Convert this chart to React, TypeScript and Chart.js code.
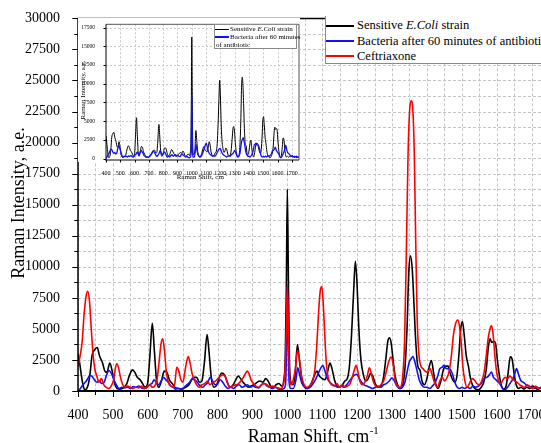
import React, { useEffect, useRef } from "react";
import { Chart, registerables } from "chart.js";

Chart.register(...registerables);

const FONT = '"Liberation Serif", serif';

// ---------- tick labels ----------
const xTickLabels = [400, 500, 600, 700, 800, 900, 1000, 1100, 1200, 1300, 1400, 1500, 1600, 1700];
const yTickLabels = [0, 2500, 5000, 7500, 10000, 12500, 15000, 17500, 20000, 22500, 25000, 27500, 30000];
const insetYTickLabels = [0, 2500, 5000, 7500, 10000, 12500, 15000, 17500];

// ---------- series names ----------
const seriesNames = ["Sensitive E.Coli strain", "Bacteria after 60 minutes of antibiotic", "Ceftriaxone"];

// ---------- Sensitive E.Coli strain (black) ----------
const blackX = [400, 405, 410, 415, 420, 425, 430, 435, 440, 447, 455, 462, 470, 477, 483, 491, 498, 505, 512, 520, 530, 540, 548, 556, 563, 570, 578, 585, 592, 600, 606, 613, 619, 625, 632, 640, 647, 655, 662, 670, 678, 688, 698, 708, 718, 726, 733, 740, 748, 755, 762, 770, 776, 782, 790, 798, 805, 812, 820, 828, 836, 845, 852, 859, 866, 873, 880, 888, 896, 905, 913, 922, 930, 938, 945, 952, 960, 968, 976, 984, 990, 994, 997, 1000, 1003, 1006, 1010, 1016, 1022, 1029, 1035, 1041, 1048, 1055, 1062, 1070, 1078, 1085, 1092, 1100, 1108, 1115, 1122, 1128, 1135, 1142, 1150, 1158, 1165, 1172, 1178, 1184, 1190, 1195, 1200, 1205, 1211, 1218, 1225, 1232, 1238, 1245, 1252, 1260, 1268, 1275, 1282, 1288, 1293, 1298, 1303, 1309, 1316, 1323, 1330, 1337, 1343, 1348, 1353, 1358, 1363, 1368, 1374, 1380, 1386, 1393, 1400, 1407, 1413, 1419, 1425, 1432, 1440, 1447, 1454, 1461, 1467, 1474, 1480, 1486, 1492, 1497, 1502, 1507, 1513, 1519, 1525, 1532, 1540, 1548, 1556, 1563, 1570, 1576, 1581, 1586, 1592, 1597, 1602, 1608, 1614, 1620, 1627, 1633, 1639, 1644, 1650, 1656, 1663, 1670, 1678, 1686, 1694, 1702, 1710, 1718, 1726, 1734, 1742, 1750];
const blackY = [3000, 2200, 1200, 400, 100, 200, 600, 1500, 2800, 3300, 3500, 2800, 2300, 1600, 1500, 2250, 1600, 600, 200, 150, 250, 600, 1300, 1700, 1500, 1100, 900, 600, 300, 700, 2800, 5450, 3200, 900, 300, 900, 1600, 1500, 900, 600, 300, 200, 150, 300, 500, 900, 1100, 1100, 700, 800, 2200, 4550, 3000, 1100, 300, 500, 1100, 1450, 1300, 700, 300, 500, 900, 1200, 1000, 700, 500, 300, 400, 500, 700, 800, 700, 1000, 800, 400, 300, 500, 600, 400, 900, 2500, 8000, 16250, 9000, 2500, 700, 500, 1200, 3740, 2400, 1000, 400, 200, 300, 700, 1300, 1600, 1200, 1000, 900, 1500, 2250, 1800, 900, 400, 300, 500, 800, 1000, 2000, 4500, 8000, 10450, 8500, 5000, 2500, 1300, 800, 1000, 1400, 1200, 600, 300, 400, 1000, 2500, 4000, 4280, 3800, 2500, 1200, 500, 200, 400, 1800, 5000, 9500, 10880, 9800, 7000, 4000, 2000, 1700, 800, 500, 1000, 2000, 2450, 1500, 600, 200, 800, 1700, 2000, 2000, 1400, 900, 700, 1200, 3000, 5000, 5600, 4500, 2800, 2000, 1000, 400, 150, 100, 300, 700, 1700, 3500, 4200, 3900, 4000, 3800, 2500, 1200, 400, 150, 400, 1500, 2750, 2600, 1400, 500, 200, 300, 150, 300, 200, 400, 300, 100, 300, 100, 200, 100];

// ---------- Bacteria after 60 minutes of antibiotic (blue) ----------
const blueX = [400, 407, 414, 421, 428, 434, 440, 447, 454, 461, 468, 475, 482, 489, 496, 503, 510, 518, 526, 534, 542, 550, 558, 566, 574, 582, 590, 598, 605, 612, 618, 624, 631, 638, 645, 652, 659, 666, 673, 680, 688, 696, 704, 712, 720, 728, 735, 742, 750, 758, 765, 772, 779, 786, 793, 800, 808, 815, 822, 830, 838, 846, 854, 862, 870, 878, 886, 894, 902, 910, 918, 926, 934, 942, 950, 958, 966, 974, 982, 990, 995, 998, 1000, 1002, 1005, 1010, 1017, 1024, 1030, 1036, 1042, 1050, 1058, 1066, 1074, 1082, 1090, 1097, 1102, 1108, 1115, 1122, 1130, 1138, 1146, 1154, 1162, 1170, 1178, 1186, 1193, 1199, 1206, 1213, 1220, 1228, 1236, 1244, 1252, 1260, 1268, 1276, 1284, 1292, 1300, 1307, 1314, 1322, 1330, 1337, 1343, 1349, 1355, 1360, 1366, 1372, 1378, 1385, 1392, 1400, 1408, 1416, 1424, 1431, 1437, 1443, 1449, 1456, 1462, 1468, 1474, 1480, 1487, 1494, 1501, 1508, 1516, 1524, 1532, 1540, 1548, 1556, 1564, 1572, 1579, 1585, 1591, 1598, 1605, 1611, 1617, 1624, 1631, 1638, 1645, 1651, 1657, 1663, 1670, 1677, 1684, 1692, 1700, 1708, 1716, 1724, 1732, 1741, 1750];
const blueY = [0, 200, 500, 700, 1000, 1250, 1200, 900, 700, 800, 600, 700, 1300, 1650, 1400, 900, 500, 200, 300, 250, 300, 200, 350, 300, 400, 250, 200, 300, 500, 600, 900, 700, 500, 800, 1100, 900, 700, 400, 300, 150, 200, 150, 300, 500, 700, 1000, 900, 700, 400, 300, 500, 700, 1100, 800, 500, 600, 900, 700, 400, 200, 300, 200, 400, 500, 300, 400, 500, 300, 400, 300, 250, 500, 600, 400, 300, 200, 300, 150, 100, 200, 600, 4000, 8400, 5000, 800, 200, 200, 800, 1870, 1200, 600, 300, 200, 300, 600, 1000, 1500, 1900, 2050, 1600, 1000, 700, 500, 400, 300, 400, 300, 500, 800, 1100, 1300, 1340, 1000, 700, 500, 400, 300, 200, 300, 400, 300, 500, 600, 800, 1070, 800, 400, 200, 300, 700, 1500, 2300, 2600, 2780, 2300, 1600, 900, 500, 300, 300, 200, 400, 700, 1200, 1800, 1900, 2060, 1800, 1800, 1700, 1300, 700, 300, 200, 300, 200, 300, 200, 400, 300, 400, 600, 1000, 1100, 1300, 1520, 1100, 900, 700, 500, 200, 100, 300, 600, 900, 1300, 1800, 1300, 800, 700, 500, 400, 300, 200, 300, 200, 300, 200, 250];

// ---------- Ceftriaxone (red) ----------
const redX = [400, 406, 412, 417, 423, 428, 433, 438, 443, 448, 454, 460, 467, 474, 481, 488, 495, 502, 507, 511, 516, 521, 527, 534, 542, 550, 558, 566, 574, 582, 590, 598, 606, 613, 620, 627, 633, 638, 643, 648, 653, 659, 666, 673, 678, 683, 689, 695, 701, 706, 711, 716, 721, 727, 733, 740, 747, 755, 763, 771, 778, 786, 794, 801, 808, 815, 822, 829, 836, 844, 852, 860, 867, 874, 880, 885, 890, 896, 903, 910, 918, 926, 934, 942, 950, 958, 966, 974, 982, 988, 993, 997, 1000, 1003, 1006, 1011, 1017, 1023, 1029, 1035, 1041, 1048, 1055, 1063, 1071, 1078, 1084, 1090, 1095, 1099, 1104, 1109, 1114, 1120, 1127, 1134, 1142, 1150, 1158, 1165, 1172, 1180, 1186, 1192, 1197, 1202, 1208, 1215, 1222, 1229, 1235, 1240, 1246, 1253, 1260, 1268, 1276, 1283, 1290, 1297, 1303, 1309, 1316, 1323, 1330, 1336, 1341, 1346, 1351, 1355, 1360, 1364, 1368, 1372, 1377, 1383, 1389, 1395, 1402, 1409, 1416, 1423, 1430, 1437, 1444, 1451, 1458, 1464, 1470, 1476, 1482, 1488, 1493, 1498, 1503, 1509, 1515, 1522, 1529, 1536, 1543, 1550, 1557, 1564, 1570, 1576, 1581, 1585, 1590, 1595, 1600, 1606, 1612, 1618, 1624, 1631, 1638, 1645, 1652, 1659, 1666, 1673, 1680, 1688, 1696, 1704, 1712, 1720, 1728, 1736, 1744, 1750];
const redY = [2000, 2800, 4000, 6000, 7600, 8020, 7200, 5000, 3000, 1800, 1200, 700, 1000, 500, 300, 200, 400, 900, 1800, 2200, 1900, 1200, 600, 300, 400, 300, 200, 300, 250, 400, 200, 300, 500, 300, 400, 1000, 2500, 3800, 4200, 3200, 1600, 700, 400, 300, 700, 1900, 1600, 900, 700, 1500, 2300, 2780, 2300, 1400, 900, 500, 300, 500, 600, 800, 500, 700, 800, 1000, 1200, 1300, 1200, 600, 300, 400, 500, 600, 800, 1100, 1400, 1600, 1400, 900, 600, 400, 300, 500, 600, 500, 300, 400, 300, 250, 200, 500, 1500, 5000, 8530, 5000, 1500, 500, 900, 1800, 3260, 2500, 1200, 500, 300, 400, 700, 1500, 3500, 6500, 8200, 8400, 6500, 3500, 1600, 800, 500, 400, 600, 300, 500, 300, 400, 600, 1100, 1700, 2060, 1600, 800, 500, 700, 1200, 1870, 1500, 800, 400, 300, 500, 800, 1500, 2300, 2730, 2200, 900, 400, 300, 1000, 4000, 11000, 19000, 22800, 23360, 22500, 19000, 12000, 6000, 3000, 2000, 1800, 1600, 1500, 1800, 1200, 600, 300, 800, 1100, 800, 1100, 1600, 2800, 4500, 5400, 5720, 5300, 4000, 2000, 800, 300, 600, 1000, 900, 600, 500, 800, 1500, 2800, 4300, 5000, 5270, 4500, 2800, 1500, 800, 600, 900, 1100, 1000, 1200, 1000, 800, 700, 500, 400, 300, 500, 300, 200, 400, 200, 300, 200, 300, 150];

const zip = (xs: number[], ys: number[]) => xs.map((x, i) => ({ x, y: ys[i] }));

type FrameCfg = {
  xGrid: number[];
  yGrid: number[];
  xMajor: number[];
  xMinor: number[];
  yMajor: number[];
  yMinor: number[];
  majorLen: number;
  minorLen: number;
  gridColor: string;
  dash: number[];
  yAxisWidth: number;
  xAxisWidth: number;
  topWidth: number;
  rightWidth: number;
  topColor: string;
  whiteBg: boolean;
  titleSize: number;
  xTitle: { cx: number; baseline: number };
  yTitle: { cx: number; cy: number };
};

const range = (a: number, b: number, s: number) => {
  const out: number[] = [];
  for (let v = a; v <= b + 1e-9; v += s) out.push(v);
  return out;
};

function drawShiftTitle(ctx: CanvasRenderingContext2D, cx: number, baseline: number, size: number) {
  const main = "Raman Shift, cm";
  const sup = "-1";
  ctx.save();
  ctx.fillStyle = "#000";
  ctx.textAlign = "left";
  ctx.textBaseline = "alphabetic";
  ctx.font = `${size}px ${FONT}`;
  const w1 = ctx.measureText(main).width;
  ctx.font = `${size * 0.6}px ${FONT}`;
  const w2 = ctx.measureText(sup).width;
  const start = cx - (w1 + w2) / 2;
  ctx.font = `${size}px ${FONT}`;
  ctx.fillText(main, start, baseline);
  ctx.font = `${size * 0.6}px ${FONT}`;
  ctx.fillText(sup, start + w1 + 0.5, baseline - size * 0.42);
  ctx.restore();
}

function framePlugin(cfg: FrameCfg) {
  return {
    id: "frame",
    beforeDraw(chart: any) {
      if (!cfg.whiteBg) return;
      const { ctx, chartArea: a } = chart;
      ctx.save();
      ctx.fillStyle = "#fff";
      ctx.fillRect(0, 0, a.right + 1, a.bottom + 2);
      ctx.restore();
    },
    beforeDatasetsDraw(chart: any) {
      const { ctx, chartArea: a, scales } = chart;
      const xs = scales.x;
      const ys = scales.y;
      ctx.save();
      ctx.beginPath();
      ctx.rect(a.left, a.top, a.right - a.left, a.bottom - a.top);
      ctx.clip();
      ctx.strokeStyle = cfg.gridColor;
      ctx.lineWidth = 1;
      ctx.setLineDash(cfg.dash);
      cfg.xGrid.forEach((v) => {
        const px = Math.round(xs.getPixelForValue(v)) + 0.5;
        ctx.beginPath();
        ctx.moveTo(px, a.top);
        ctx.lineTo(px, a.bottom);
        ctx.stroke();
      });
      cfg.yGrid.forEach((v) => {
        const py = Math.round(ys.getPixelForValue(v)) + 0.5;
        ctx.beginPath();
        ctx.moveTo(a.left, py);
        ctx.lineTo(a.right, py);
        ctx.stroke();
      });
      ctx.restore();
    },
    afterDatasetsDraw(chart: any) {
      const { ctx, chartArea: a, scales } = chart;
      const xs = scales.x;
      const ys = scales.y;
      ctx.save();
      ctx.setLineDash([]);
      ctx.strokeStyle = "#000";
      ctx.lineWidth = 1;
      const tickX = (vals: number[], len: number) =>
        vals.forEach((v) => {
          const px = Math.round(xs.getPixelForValue(v)) + 0.5;
          ctx.beginPath();
          ctx.moveTo(px, a.bottom);
          ctx.lineTo(px, a.bottom + len + cfg.xAxisWidth / 2);
          ctx.stroke();
        });
      const tickY = (vals: number[], len: number) =>
        vals.forEach((v) => {
          const py = Math.round(ys.getPixelForValue(v)) + 0.5;
          ctx.beginPath();
          ctx.moveTo(a.left, py);
          ctx.lineTo(a.left - len - cfg.yAxisWidth / 2, py);
          ctx.stroke();
        });
      tickX(cfg.xMajor, cfg.majorLen);
      tickX(cfg.xMinor, cfg.minorLen);
      tickY(cfg.yMajor, cfg.majorLen);
      tickY(cfg.yMinor, cfg.minorLen);
      if (cfg.topWidth > 0) {
        ctx.strokeStyle = cfg.topColor;
        ctx.lineWidth = cfg.topWidth;
        ctx.beginPath();
        ctx.moveTo(a.left, a.top);
        ctx.lineTo(a.right, a.top);
        ctx.stroke();
      }
      if (cfg.rightWidth > 0) {
        ctx.strokeStyle = cfg.topColor;
        ctx.lineWidth = cfg.rightWidth;
        ctx.beginPath();
        ctx.moveTo(a.right, a.top);
        ctx.lineTo(a.right, a.bottom);
        ctx.stroke();
      }
      ctx.strokeStyle = "#000";
      ctx.lineWidth = cfg.yAxisWidth;
      ctx.beginPath();
      ctx.moveTo(a.left, a.top);
      ctx.lineTo(a.left, a.bottom + cfg.xAxisWidth / 2);
      ctx.stroke();
      ctx.lineWidth = cfg.xAxisWidth;
      ctx.beginPath();
      ctx.moveTo(a.left - cfg.yAxisWidth / 2, a.bottom);
      ctx.lineTo(a.right, a.bottom);
      ctx.stroke();
      ctx.restore();

      drawShiftTitle(ctx, cfg.xTitle.cx, cfg.xTitle.baseline, cfg.titleSize);
      ctx.save();
      ctx.fillStyle = "#000";
      ctx.font = `${cfg.titleSize}px ${FONT}`;
      ctx.textAlign = "center";
      ctx.textBaseline = "middle";
      ctx.translate(cfg.yTitle.cx, cfg.yTitle.cy);
      ctx.rotate(-Math.PI / 2);
      ctx.fillText("Raman Intensity, a.e.", 0, 0);
      ctx.restore();
    },
  };
}

function makeScales(opts: {
  xMin: number;
  xMax: number;
  yMin: number;
  yMax: number;
  xTicks: number[];
  yTicks: number[];
  xFont: number;
  yFont: number;
  xPad: number;
  yPad: number;
  yWidth: number;
  xHeight: number;
}) {
  return {
    x: {
      type: "linear",
      min: opts.xMin,
      max: opts.xMax,
      grid: { display: false },
      border: { display: false },
      ticks: {
        color: "#000",
        font: { family: FONT, size: opts.xFont },
        padding: opts.xPad,
        maxRotation: 0,
        autoSkip: false,
        callback: (v: any) => String(v),
      },
      afterBuildTicks: (s: any) => {
        s.ticks = opts.xTicks.map((v) => ({ value: v }));
      },
      afterFit: (s: any) => {
        s.height = opts.xHeight;
      },
    },
    y: {
      type: "linear",
      min: opts.yMin,
      max: opts.yMax,
      grid: { display: false },
      border: { display: false },
      ticks: {
        color: "#000",
        font: { family: FONT, size: opts.yFont },
        padding: opts.yPad,
        autoSkip: false,
        callback: (v: any) => String(v),
      },
      afterBuildTicks: (s: any) => {
        s.ticks = opts.yTicks.map((v) => ({ value: v }));
      },
      afterFit: (s: any) => {
        s.width = opts.yWidth;
      },
    },
  };
}

const lineDs = (label: string, data: any[], color: string, width: number, order: number) => ({
  label,
  data,
  borderColor: color,
  backgroundColor: color,
  borderWidth: width,
  pointRadius: 0,
  fill: false,
  order,
  cubicInterpolationMode: "monotone",
});

export default function App() {
  const mainRef = useRef<HTMLCanvasElement>(null);
  const insetRef = useRef<HTMLCanvasElement>(null);

  useEffect(() => {
    const mainChart = new Chart(mainRef.current as HTMLCanvasElement, {
      type: "line",
      data: {
        datasets: [
          lineDs(seriesNames[0], zip(blackX, blackY), "#000000", 1.6, 3),
          lineDs(seriesNames[1], zip(blueX, blueY), "#1010ff", 1.6, 2),
          lineDs(seriesNames[2], zip(redX, redY), "#ff0000", 1.6, 1),
        ] as any,
      },
      options: {
        responsive: false,
        animation: false,
        devicePixelRatio: 1,
        layout: { padding: { left: 0, top: 16, right: 11, bottom: 0 } },
        plugins: { legend: { display: false }, tooltip: { enabled: false } },
        scales: makeScales({
          xMin: 400,
          xMax: 1750,
          yMin: 0,
          yMax: 30000,
          xTicks: xTickLabels,
          yTicks: yTickLabels,
          xFont: 14,
          yFont: 14,
          xPad: 8,
          yPad: 10,
          yWidth: 78,
          xHeight: 52,
        }) as any,
      } as any,
      plugins: [
        framePlugin({
          xGrid: range(400, 1750, 50),
          yGrid: range(0, 30000, 1250),
          xMajor: range(400, 1700, 100),
          xMinor: range(450, 1750, 100),
          yMajor: range(0, 30000, 2500),
          yMinor: range(1250, 28750, 2500),
          majorLen: 5,
          minorLen: 3,
          gridColor: "#c4c4c4",
          dash: [3, 2],
          yAxisWidth: 1.5,
          xAxisWidth: 2,
          topWidth: 1.5,
          rightWidth: 1.5,
          topColor: "#000",
          whiteBg: false,
          titleSize: 18,
          xTitle: { cx: 313, baseline: 442 },
          yTitle: { cx: 19, cy: 203 },
        }) as any,
      ],
    });

    const insetChart = new Chart(insetRef.current as HTMLCanvasElement, {
      type: "line",
      data: {
        datasets: [
          lineDs(seriesNames[0], zip(blackX, blackY), "#000000", 1, 2),
          lineDs(seriesNames[1], zip(blueX, blueY), "#1010ff", 1.3, 1),
        ] as any,
      },
      options: {
        responsive: false,
        animation: false,
        devicePixelRatio: 1,
        layout: { padding: { left: 0, top: 5, right: 3, bottom: 0 } },
        plugins: { legend: { display: false }, tooltip: { enabled: false } },
        scales: makeScales({
          xMin: 400,
          xMax: 1750,
          yMin: -200,
          yMax: 17950,
          xTicks: xTickLabels,
          yTicks: insetYTickLabels,
          xFont: 6,
          yFont: 5.5,
          xPad: 2,
          yPad: 3,
          yWidth: 28,
          xHeight: 30,
        }) as any,
      } as any,
      plugins: [
        framePlugin({
          xGrid: range(500, 1700, 100),
          yGrid: range(2500, 17500, 2500),
          xMajor: range(400, 1700, 100),
          xMinor: [],
          yMajor: range(0, 17500, 2500),
          yMinor: [],
          majorLen: 2,
          minorLen: 1,
          gridColor: "#c8c8c8",
          dash: [2, 2],
          yAxisWidth: 1,
          xAxisWidth: 1,
          topWidth: 1,
          rightWidth: 1,
          topColor: "#555",
          whiteBg: true,
          titleSize: 7,
          xTitle: { cx: 124, baseline: 161 },
          yTitle: { cx: 4.7, cy: 72 },
        }) as any,
      ],
    });

    return () => {
      mainChart.destroy();
      insetChart.destroy();
    };
  }, []);

  const row = (top: number, h: number) => ({
    position: "absolute" as const,
    left: 0,
    top: top - h / 2,
    height: h,
    display: "flex",
    alignItems: "center",
    whiteSpace: "nowrap" as const,
  });

  return (
    <div
      style={{
        position: "fixed",
        left: 0,
        top: 0,
        width: 541,
        height: 443,
        overflow: "hidden",
        background: "#fff",
        fontFamily: FONT,
        color: "#000",
      }}
    >
      <canvas
        ref={mainRef}
        width={560}
        height={443}
        style={{ position: "absolute", left: 0, top: 0, width: 560, height: 443 }}
      />
      <canvas
        ref={insetRef}
        width={224}
        height={172}
        style={{ position: "absolute", left: 78, top: 18, width: 224, height: 172 }}
      />
      <div
        style={{
          position: "absolute",
          left: 325,
          top: 16,
          width: 240,
          height: 48,
          boxSizing: "border-box",
          border: "1px solid #8a8a8a",
          borderTop: "none",
          background: "#fff",
          fontSize: 12.5,
        }}
      >
        <div style={row(9.7, 16)}>
          <span style={{ display: "inline-block", width: 28, height: 2, background: "#000" }} />
          <span style={{ marginLeft: 3 }}>
            Sensitive <i>E.Coli</i> strain
          </span>
        </div>
        <div style={row(25, 16)}>
          <span style={{ display: "inline-block", width: 28, height: 2, background: "#1010ff" }} />
          <span style={{ marginLeft: 3 }}>{seriesNames[1]}</span>
        </div>
        <div style={row(40.3, 16)}>
          <span style={{ display: "inline-block", width: 28, height: 2, background: "#ff0000" }} />
          <span style={{ marginLeft: 3 }}>{seriesNames[2]}</span>
        </div>
      </div>
      <div
        style={{
          position: "absolute",
          left: 214,
          top: 24,
          width: 83,
          height: 25,
          boxSizing: "border-box",
          border: "1px solid #8a8a8a",
          background: "#fff",
          fontSize: 7,
        }}
      >
        <div style={row(4, 8)}>
          <span style={{ display: "inline-block", width: 14, height: 1, background: "#000" }} />
          <span style={{ marginLeft: 1 }}>
            Sensitive <i>E.Coli</i> strain
          </span>
        </div>
        <div style={row(12, 8)}>
          <span style={{ display: "inline-block", width: 14, height: 1.2, background: "#1010ff" }} />
          <span style={{ marginLeft: 1 }}>Bacteria after 60 minutes</span>
        </div>
        <div style={row(20, 8)}>
          <span style={{ marginLeft: 1 }}>of antibiotic</span>
        </div>
      </div>
    </div>
  );
}
